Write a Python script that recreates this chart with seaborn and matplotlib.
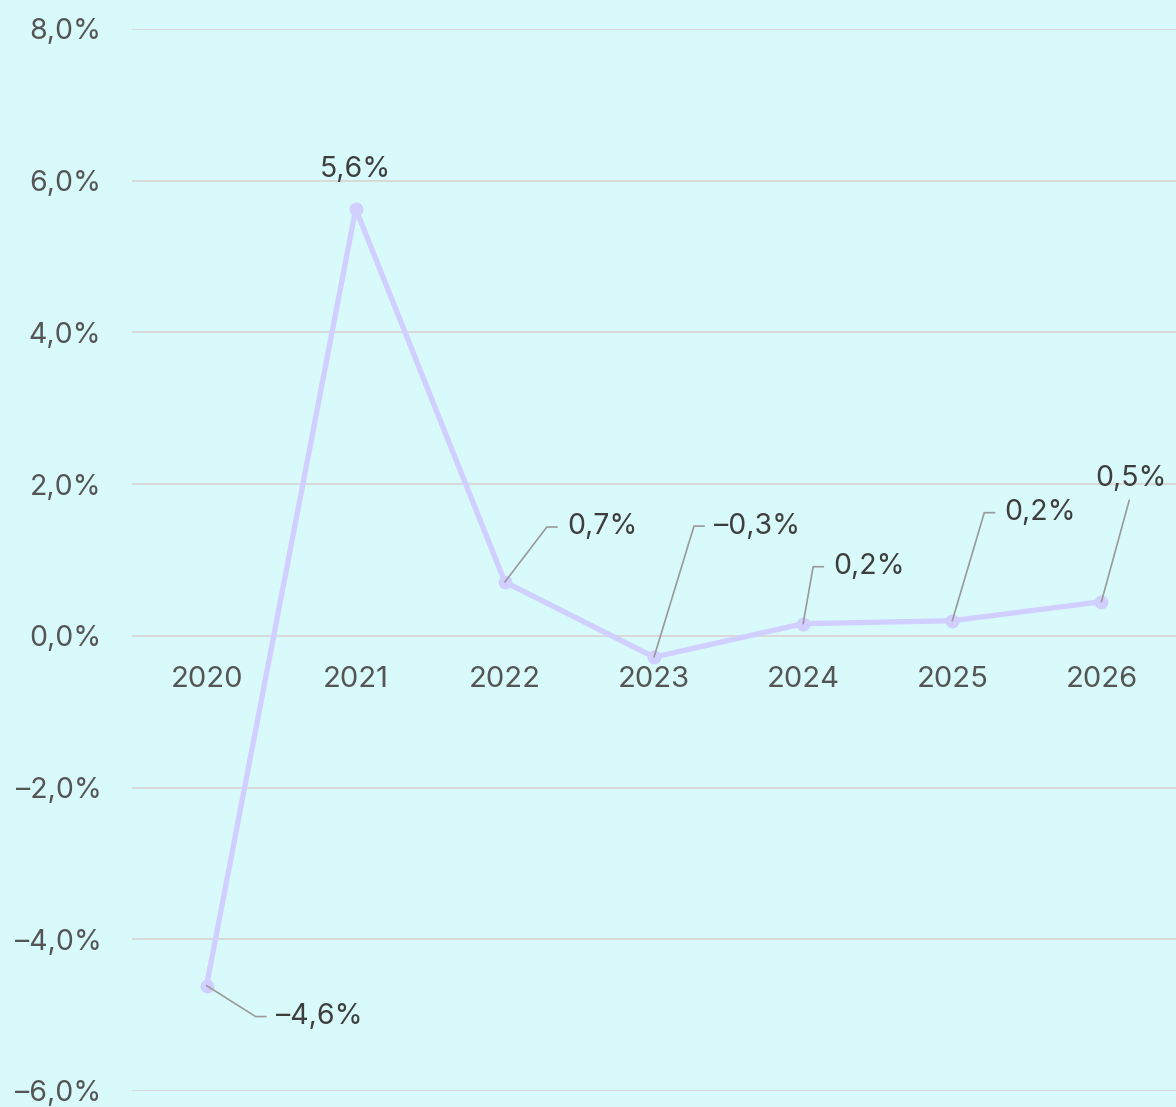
import matplotlib
matplotlib.use('Agg')
import math
import pandas as pd
import seaborn as sns
import matplotlib.pyplot as plt
from matplotlib.ticker import FuncFormatter, MultipleLocator

# Data
years = ['2020', '2021', '2022', '2023', '2024', '2025', '2026']
growth = [-4.61, 5.63, 0.71, -0.28, 0.16, 0.20, 0.45]
labels = ['–4,6%', '5,6%', '0,7%', '–0,3%', '0,2%', '0,2%', '0,5%']

# Label placement: (knee dx, knee dy) in pixels from the point, None = plain label
knees = [(49, -31), None, (42, 55), (40, 131), (10, 57), (32, 108), None]

bg = '#D9FAFB'
line_color = '#D0CFFF'
text_color = '#3E3E3E'
tick_color = '#555555'
leader_color = '#9A9A9A'

sns.set_theme(style='white')
plt.rcParams['font.family'] = ['Inter', 'DejaVu Sans']

df = pd.DataFrame({'Year': years, 'Growth': growth})

fig = plt.figure(figsize=(11.76, 11.07), dpi=100, facecolor=bg)
ax = fig.add_axes([132 / 1176, 16 / 1107, 1 - 132 / 1176, (1091 - 29) / 1107])
ax.set_facecolor(bg)

sns.lineplot(data=df, x='Year', y='Growth', ax=ax, color=line_color, lw=3.8,
             marker='o', markersize=10, markeredgewidth=0, zorder=3)


def pct(v, p):
    s = f'{abs(v):.1f}%'.replace('.', ',')
    return ('–' + s) if v < 0 else s


ax.set_ylim(-6, 8)
ax.set_xlim(-0.5, 6.5)
ax.yaxis.set_major_locator(MultipleLocator(2))
ax.yaxis.set_major_formatter(FuncFormatter(pct))
ax.grid(axis='y', color='#D9D9D9', lw=1.5)
ax.grid(axis='x', visible=False)
ax.set_axisbelow(True)
for s in ax.spines.values():
    s.set_visible(False)
ax.spines['bottom'].set_position(('data', 0))
ax.tick_params(axis='x', length=0, pad=22, labelsize=21, labelcolor=tick_color)
ax.tick_params(axis='y', length=0, pad=22, labelsize=20.5, labelcolor=tick_color)
ax.set_xlabel('')
ax.set_ylabel('')

# Data labels with leader lines
for i, (lab, val) in enumerate(zip(labels, growth)):
    knee = knees[i]
    if i == 1:
        ax.annotate(lab, (i, val), xytext=(0, 39), textcoords='offset pixels',
                    ha='center', va='center', fontsize=20.5, color=text_color)
    elif i == 6:
        ax.annotate(lab, (i, val), xytext=(30, 123), textcoords='offset pixels',
                    ha='center', va='center', fontsize=20.5, color=text_color,
                    arrowprops=dict(arrowstyle='-', color=leader_color, lw=1.2,
                                    relpos=(0.5, 0), patchA=None,
                                    shrinkA=6, shrinkB=0))
    else:
        dx, dy = knee
        ang = math.degrees(math.atan2(dy, dx))
        ax.annotate(lab, (i, val), xytext=(dx + 20, dy), textcoords='offset pixels',
                    ha='left', va='center', fontsize=20.5, color=text_color,
                    arrowprops=dict(arrowstyle='-', color=leader_color, lw=1.2,
                                    relpos=(0, 0.5), patchA=None,
                                    shrinkA=7, shrinkB=0,
                                    connectionstyle=f'angle,angleA=0,angleB={ang},rad=0'))

fig.savefig('out.png', dpi=100, facecolor=bg)
